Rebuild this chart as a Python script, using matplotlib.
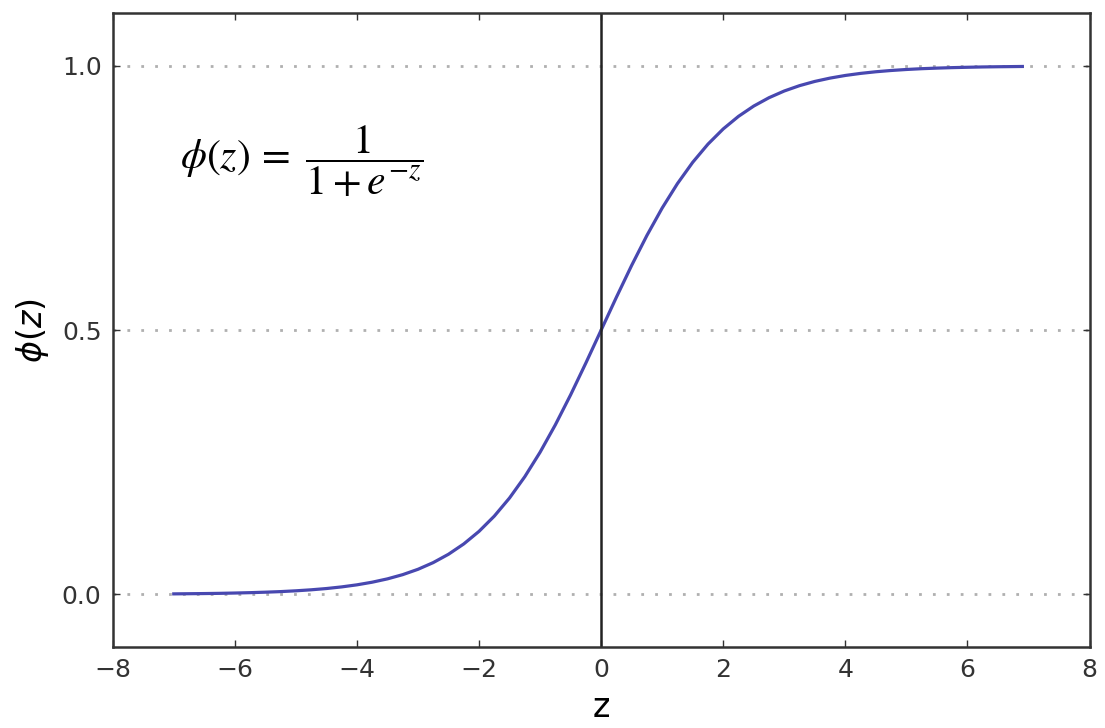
import matplotlib.pyplot as plt

# sigmoid curve
z_vals = [-7.0, -6.75, -6.5, -6.25, -6.0, -5.75, -5.5, -5.25, -5.0, -4.75,
          -4.5, -4.25, -4.0, -3.75, -3.5, -3.25, -3.0, -2.75, -2.5, -2.25,
          -2.0, -1.75, -1.5, -1.25, -1.0, -0.75, -0.5, -0.25, 0.0, 0.25,
          0.5, 0.75, 1.0, 1.25, 1.5, 1.75, 2.0, 2.25, 2.5, 2.75,
          3.0, 3.25, 3.5, 3.75, 4.0, 4.25, 4.5, 4.75, 5.0, 5.25,
          5.5, 5.75, 6.0, 6.25, 6.5, 6.75, 6.9]
phi_vals = [0.0009, 0.0012, 0.0015, 0.0019, 0.0025, 0.0032, 0.0041, 0.0052, 0.0067, 0.0086,
            0.0110, 0.0141, 0.0180, 0.0230, 0.0293, 0.0373, 0.0474, 0.0601, 0.0759, 0.0954,
            0.1192, 0.1480, 0.1824, 0.2227, 0.2689, 0.3208, 0.3775, 0.4378, 0.5000, 0.5622,
            0.6225, 0.6792, 0.7311, 0.7773, 0.8176, 0.8520, 0.8808, 0.9046, 0.9241, 0.9399,
            0.9526, 0.9627, 0.9707, 0.9770, 0.9820, 0.9859, 0.9890, 0.9914, 0.9933, 0.9948,
            0.9959, 0.9968, 0.9975, 0.9981, 0.9985, 0.9988, 0.9990]

x_ticks = [-8, -6, -4, -2, 0, 2, 4, 6, 8]
y_ticks = [0.0, 0.5, 1.0]

fig = plt.figure(figsize=(11.05, 7.28), dpi=100)
ax = fig.add_axes([0.102, 0.111, 0.884, 0.871])

ax.plot(z_vals, phi_vals, color='#4848b0', lw=2.3)
ax.axvline(0.0, color='#222222', lw=1.8)

ax.set_xlim(-8, 8)
ax.set_ylim(-0.1, 1.1)
ax.set_xticks(x_ticks)
ax.set_yticks(y_ticks)
ax.set_yticklabels(['%.1f' % t for t in y_ticks])

for t in y_ticks:
    ax.axhline(t, color='#b0b0b0', ls=(0, (1, 4)), lw=2, zorder=0)

ax.tick_params(direction='in', top=True, right=True, length=5, width=1,
               labelsize=18, pad=8, colors='#333333')
for s in ax.spines.values():
    s.set_linewidth(1.8)
    s.set_color('#333333')

ax.set_xlabel('z', fontsize=24, labelpad=6)
ax.set_ylabel(r'$\phi (z)$', fontsize=24, labelpad=8)

ax.text(-4.9, 0.82, r'$\phi (z) \,=\ \dfrac{1}{1 + e^{-z}}$', fontsize=30,
        math_fontfamily='stix', ha='center', va='center')

fig.savefig('out.png', dpi=100)
